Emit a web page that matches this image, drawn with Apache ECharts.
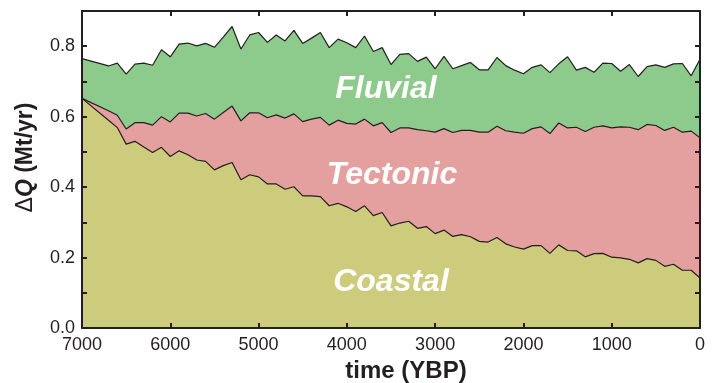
<!DOCTYPE html>
<html>
<head>
<meta charset="utf-8">
<script src="https://cdn.jsdelivr.net/npm/echarts@6/dist/echarts.min.js"></script>
<style>
  html, body { margin: 0; padding: 0; background: #fff; }
  #chart { width: 718px; height: 383px; }
</style>
</head>
<body>
<div id="chart"></div>
<script>
// time (years before present)
const years = [7000, 6700, 6600, 6500, 6400, 6300, 6200, 6100, 6000, 5900, 5800, 5700, 5600, 5500, 5400, 5300, 5200, 5100, 5000, 4900, 4800, 4700, 4600, 4500, 4400, 4300, 4200, 4100, 4000, 3900, 3800, 3700, 3600, 3500, 3400, 3300, 3200, 3100, 3000, 2900, 2800, 2700, 2600, 2500, 2400, 2300, 2200, 2100, 2000, 1900, 1800, 1700, 1600, 1500, 1400, 1300, 1200, 1100, 1000, 900, 800, 700, 600, 500, 400, 300, 200, 100, 0];

// contributions (Mt/yr), stacked bottom to top
const coastal = [0.652, 0.590, 0.569, 0.522, 0.530, 0.514, 0.498, 0.513, 0.487, 0.503, 0.492, 0.477, 0.473, 0.449, 0.461, 0.470, 0.421, 0.435, 0.429, 0.409, 0.409, 0.394, 0.401, 0.375, 0.375, 0.373, 0.347, 0.354, 0.344, 0.331, 0.347, 0.319, 0.328, 0.290, 0.298, 0.303, 0.283, 0.288, 0.268, 0.278, 0.260, 0.265, 0.259, 0.246, 0.244, 0.257, 0.239, 0.230, 0.224, 0.234, 0.234, 0.212, 0.236, 0.220, 0.219, 0.202, 0.211, 0.212, 0.201, 0.199, 0.195, 0.185, 0.197, 0.192, 0.175, 0.181, 0.164, 0.164, 0.142];
const tectonic = [0, 0.027, 0.035, 0.043, 0.053, 0.069, 0.078, 0.087, 0.098, 0.107, 0.118, 0.125, 0.136, 0.144, 0.151, 0.160, 0.167, 0.176, 0.182, 0.188, 0.196, 0.202, 0.207, 0.211, 0.218, 0.225, 0.229, 0.236, 0.237, 0.248, 0.246, 0.255, 0.255, 0.265, 0.270, 0.265, 0.280, 0.272, 0.288, 0.288, 0.295, 0.296, 0.302, 0.310, 0.312, 0.316, 0.321, 0.326, 0.329, 0.332, 0.337, 0.340, 0.346, 0.348, 0.351, 0.356, 0.359, 0.362, 0.367, 0.372, 0.375, 0.378, 0.381, 0.383, 0.386, 0.389, 0.392, 0.395, 0.398];
const fluvial = [0.113, 0.127, 0.148, 0.156, 0.166, 0.169, 0.170, 0.190, 0.185, 0.196, 0.199, 0.199, 0.199, 0.204, 0.214, 0.226, 0.204, 0.221, 0.228, 0.214, 0.227, 0.219, 0.237, 0.222, 0.230, 0.241, 0.220, 0.230, 0.229, 0.217, 0.236, 0.211, 0.213, 0.193, 0.209, 0.211, 0.194, 0.209, 0.180, 0.205, 0.181, 0.184, 0.193, 0.177, 0.177, 0.195, 0.185, 0.176, 0.169, 0.174, 0.176, 0.173, 0.168, 0.202, 0.162, 0.182, 0.156, 0.178, 0.183, 0.158, 0.178, 0.151, 0.164, 0.172, 0.179, 0.180, 0.195, 0.157, 0.223];

const FONT = '"Liberation Sans", Arial, Helvetica, sans-serif';
const INK = '#231f20';

const chart = echarts.init(document.getElementById('chart'), null, { renderer: 'canvas' });

// echarts stacks the x dimension on value/value axes, so build the layer tops here
const coastalTop = coastal.map(v => v);
const tectonicTop = coastal.map((v, i) => v + tectonic[i]);
const fluvialTop = tectonicTop.map((v, i) => v + fluvial[i]);
const pairs = arr => arr.map((v, i) => [years[i], +v.toFixed(4)]);

const frameAxis = {
  min: 0,
  z: 10,
  axisLine: { show: true, onZero: false, lineStyle: { color: INK, width: 2 } },
  axisTick: { show: true, inside: true, length: 5, lineStyle: { color: INK, width: 2 } },
  splitLine: { show: false }
};

const layerSeries = (name, data, color, z) => ({
  name: name,
  type: 'line',
  data: pairs(data),
  symbol: 'none',
  smooth: false,
  lineStyle: { color: INK, width: 1.2 },
  areaStyle: { color: color, opacity: 1, origin: 'start' },
  z: z
});

const option = {
  animation: false,
  backgroundColor: '#fff',
  grid: { left: 82, right: 18, top: 11, bottom: 55, outerBoundsMode: 'none', containLabel: false },
  xAxis: [
    Object.assign({}, frameAxis, {
      type: 'value', max: 7000, interval: 1000, inverse: true, position: 'bottom',
      name: 'time (YBP)', nameLocation: 'middle', nameGap: 30,
      nameTextStyle: { fontFamily: FONT, fontWeight: 'bold', fontSize: 24, color: INK, padding: [0, 0, 0, 30] },
      axisLabel: { show: true, margin: 8, fontFamily: FONT, fontSize: 18, color: INK, formatter: v => String(v) }
    }),
    Object.assign({}, frameAxis, {
      type: 'value', max: 7000, interval: 1000, inverse: true, position: 'top',
      axisLabel: { show: false }
    })
  ],
  yAxis: [
    Object.assign({}, frameAxis, {
      type: 'value', max: 0.9, interval: 0.1, position: 'left',
      name: '{d|Δ}{q|Q} (Mt/yr)', nameLocation: 'middle', nameGap: 45, nameRotate: 90,
      nameTextStyle: {
        fontFamily: FONT, fontWeight: 'bold', fontSize: 23, color: INK,
        padding: [0, 0, 0, 24],
        rich: {
          d: { fontFamily: FONT, fontWeight: 'normal', fontSize: 23, color: INK },
          q: { fontFamily: FONT, fontWeight: 'bold', fontStyle: 'italic', fontSize: 23, color: INK }
        }
      },
      axisLabel: {
        show: true, margin: 7, fontFamily: FONT, fontSize: 18, color: INK,
        showMaxLabel: false,
        formatter: v => (Math.round(v * 10) % 2 === 0 ? v.toFixed(1) : '')
      }
    }),
    Object.assign({}, frameAxis, {
      type: 'value', max: 0.9, interval: 0.1, position: 'right',
      axisLabel: { show: false }
    })
  ],
  series: [
    layerSeries('Fluvial', fluvialTop, '#8dcb8c', 2),
    layerSeries('Tectonic', tectonicTop, '#e49f9f', 3),
    layerSeries('Coastal', coastalTop, '#cdcc7c', 4)
  ],
  graphic: [
    ['Fluvial', 386, 89],
    ['Tectonic', 392, 175],
    ['Coastal', 391, 282]
  ].map(([t, x, y]) => ({
    type: 'text', x: x, y: y, z: 20,
    style: {
      text: t, fill: '#fff', align: 'center', verticalAlign: 'middle',
      font: 'italic bold 32px ' + FONT
    }
  }))
};

chart.setOption(option);
</script>
</body>
</html>
